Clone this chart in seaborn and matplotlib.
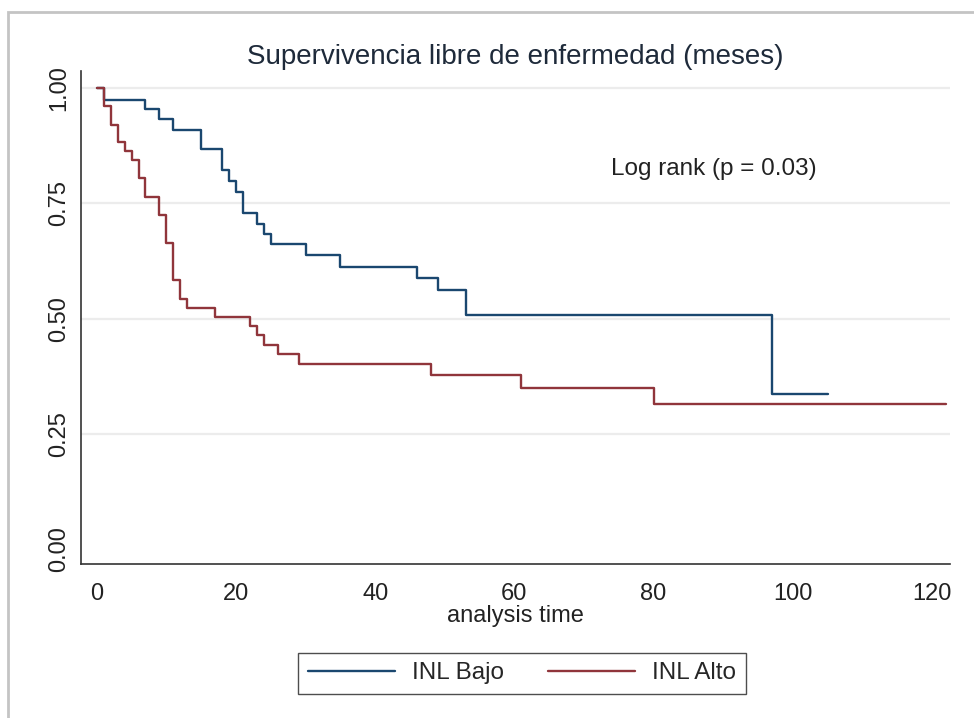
import pandas as pd
import seaborn as sns
import matplotlib
matplotlib.use("Agg")
import matplotlib.pyplot as plt
from matplotlib.lines import Line2D
from matplotlib.patches import Rectangle

# Kaplan-Meier steps
bajo_time = [0, 1, 7, 9, 11, 15, 18, 19, 20, 21, 23, 24, 25, 30, 35, 46, 49, 53, 97, 105]
bajo_surv = [1.0, 0.975, 0.955, 0.933, 0.910, 0.867, 0.823, 0.799, 0.775, 0.730,
             0.705, 0.683, 0.662, 0.638, 0.613, 0.588, 0.562, 0.507, 0.337, 0.337]

alto_time = [0, 1, 2, 3, 4, 5, 6, 7, 9, 10, 11, 12, 13, 17, 22, 23, 24, 26, 29, 48, 61, 80, 122]
alto_surv = [1.0, 0.961, 0.921, 0.884, 0.864, 0.844, 0.804, 0.764, 0.724, 0.664, 0.583,
             0.543, 0.523, 0.503, 0.483, 0.464, 0.443, 0.424, 0.401, 0.377, 0.350, 0.315, 0.315]

groups = ["INL Bajo", "INL Alto"]
colors = ["#1a476f", "#90353b"]
x_ticks = [0, 20, 40, 60, 80, 100, 120]
y_ticks = [0.0, 0.25, 0.5, 0.75, 1.0]

title = "Supervivencia libre de enfermedad (meses)"
note = "Log rank (p = 0.03)"


def build_frame():
    a = pd.DataFrame({"time": bajo_time, "surv": bajo_surv, "group": groups[0]})
    b = pd.DataFrame({"time": alto_time, "surv": alto_surv, "group": groups[1]})
    return pd.concat([a, b], ignore_index=True)


def main():
    df = build_frame()
    sns.set_theme(style="white")
    plt.rcParams["font.family"] = ["Liberation Sans", "DejaVu Sans"]

    fig = plt.figure(figsize=(9.74, 7.18), dpi=100)
    ax = fig.add_axes([0.0832, 0.2141, 0.8922, 0.687])

    # grid first, so curves sit on top
    for y in y_ticks[1:]:
        ax.axhline(y, color="#ececec", lw=1.6, zorder=0)

    sns.lineplot(data=df, x="time", y="surv", hue="group", palette=dict(zip(groups, colors)),
                 drawstyle="steps-post", estimator=None, lw=1.7, ax=ax, legend=False)

    ax.set_xlim(-2.26, 122.6)
    ax.set_ylim(-0.0326, 1.037)
    ax.set_xticks(x_ticks)
    ax.set_yticks(y_ticks)
    ax.set_yticklabels([f"{v:.2f}" for v in y_ticks], rotation=90, va="center")
    ax.tick_params(axis="both", direction="out", length=6.5, width=1, color="#333333",
                   labelsize=17, labelcolor="#222222")
    ax.tick_params(axis="x", pad=7)
    ax.tick_params(axis="y", pad=1.5)
    for side in ["top", "right"]:
        ax.spines[side].set_visible(False)
    for side in ["left", "bottom"]:
        ax.spines[side].set_color("#333333")
        ax.spines[side].set_linewidth(1.2)

    ax.set_xlabel("analysis time", fontsize=17, color="#222222", labelpad=0)
    ax.set_ylabel("")
    ax.set_title(title, fontsize=20, color="#1e2a3a", pad=5)
    ax.text(73.9, 0.825, note, fontsize=17.5, color="#222222", ha="left", va="center")

    handles = [Line2D([], [], color=c, lw=1.7) for c in colors]
    leg = fig.legend(handles, groups, loc="center", bbox_to_anchor=(0.536, 0.062), ncol=2,
                     fontsize=17.5, frameon=True, fancybox=False, edgecolor="#222222",
                     handlelength=3.6, handletextpad=0.7, columnspacing=1.8, borderpad=0.4)
    leg.get_frame().set_linewidth(1.0)

    # light frame round the graph region
    fig.patches.append(Rectangle((8 / 974, -0.1), 1.1, 1.1 - 12 / 718, transform=fig.transFigure,
                                 fill=False, edgecolor="#c4c4c4", lw=2))

    fig.savefig("out.png", dpi=100)
    plt.close(fig)


if __name__ == "__main__":
    main()
